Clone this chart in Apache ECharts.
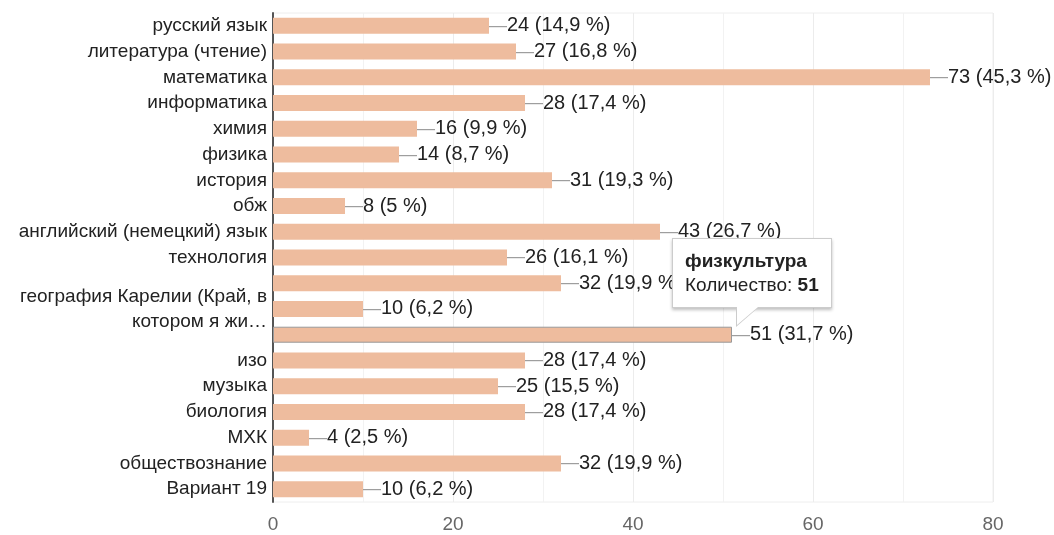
<!DOCTYPE html>
<html>
<head>
<meta charset="utf-8">
<script src="https://cdn.jsdelivr.net/npm/echarts@6/dist/echarts.min.js"></script>
<style>
html,body{margin:0;padding:0;background:#fff;}
#chart{width:1054px;height:535px;}
</style>
</head>
<body>
<div id="chart"></div>
<script>
const categories = [
  'русский язык', 'литература (чтение)', 'математика', 'информатика', 'химия',
  'физика', 'история', 'обж', 'английский (немецкий) язык', 'технология',
  'география', 'география Карелии (Край, в\nкотором я жи…', 'физкультура', 'изо', 'музыка',
  'биология', 'МХК', 'обществознание', 'Вариант 19'
];
const values = [24, 27, 73, 28, 16, 14, 31, 8, 43, 26, 32, 10, 51, 28, 25, 28, 4, 32, 10];
const totalRespondents = 161;
const hiddenLabelIdx = [10, 12];
const focusIdx = 12;
const xTicks = [0, 20, 40, 60, 80];

function pct(v) {
  let p = Math.round(v / totalRespondents * 1000) / 10;
  let s = (p % 1 === 0) ? String(p) : p.toFixed(1);
  return s.replace('.', ',');
}

const chart = echarts.init(document.getElementById('chart'));
const font = '"Liberation Sans", Arial, sans-serif';

chart.setOption({
  animation: false,
  textStyle: { fontFamily: font },
  grid: { left: 273, right: 61, top: 13, bottom: 33, show: true, borderColor: '#eeeeee', borderWidth: 1 },
  tooltip: {
    trigger: 'item',
    alwaysShowContent: true,
    showDelay: 0,
    transitionDuration: 0,
    backgroundColor: '#fff',
    borderColor: '#cccccc',
    borderWidth: 1,
    padding: [10, 12],
    extraCssText: 'box-shadow:0 2px 3px rgba(0,0,0,0.25);border-radius:0;overflow:visible;',
    textStyle: { fontFamily: font, fontSize: 19, color: '#222' },
    position: function (point, params, dom, rect, size) {
      const bx = rect.x + rect.width;
      const by = rect.y;
      return [bx - 60, by - 89];
    },
    formatter: function (p) {
      return '<div style="position:relative;line-height:24px;font-size:19px;">' +
        '<div style="font-weight:bold;">' + categories[p.dataIndex] + '</div>' +
        '<div>Количество: <b>' + p.value + '</b></div>' +
        '<div style="position:absolute;left:51px;bottom:-30px;width:0;height:0;border-right:23px solid transparent;border-top:20px solid #ccc;"></div>' +
        '<div style="position:absolute;left:52px;bottom:-28px;width:0;height:0;border-right:21px solid transparent;border-top:18px solid #fff;"></div>' +
        '</div>';
    }
  },
  xAxis: {
    type: 'value',
    min: 0,
    max: 80,
    interval: 20,
    axisLine: { show: false },
    axisTick: { show: false },
    axisLabel: { color: '#666', fontSize: 19, margin: 13, fontFamily: font },
    splitLine: { show: true, lineStyle: { color: '#ececec', width: 1 } },
    minorTick: { show: false, splitNumber: 2 },
    minorSplitLine: { show: true, lineStyle: { color: '#f2f2f2', width: 1 } }
  },
  yAxis: {
    type: 'category',
    data: categories,
    inverse: true,
    axisLine: { show: true, lineStyle: { color: '#555', width: 2 } },
    axisTick: { show: false },
    axisLabel: {
      color: '#222',
      fontSize: 19,
      margin: 6,
      fontFamily: font,
      lineHeight: 25,
      showMinLabel: true,
      showMaxLabel: true,
      hideOverlap: false,
      interval: function (idx) { return hiddenLabelIdx.indexOf(idx) < 0; }
    }
  },
  series: [{
    type: 'bar',
    barWidth: 16,
    data: values.map(function (v, i) {
      return i === focusIdx
        ? { value: v, itemStyle: { borderColor: '#999', borderWidth: 1 } }
        : v;
    }),
    itemStyle: { color: '#eebc9e' },
    emphasis: { disabled: true },
    label: {
      show: true,
      position: 'right',
      distance: 0,
      fontFamily: font,
      fontSize: 20,
      formatter: function (p) {
        return '{d|—}{v|' + p.value + ' (' + pct(p.value) + ' %)}';
      },
      rich: {
        d: { color: '#9e9e9e', fontSize: 18, fontFamily: font },
        v: { color: '#222', fontSize: 20, fontFamily: font }
      }
    }
  }]
});

chart.dispatchAction({ type: 'showTip', seriesIndex: 0, dataIndex: focusIdx });
</script>
</body>
</html>
